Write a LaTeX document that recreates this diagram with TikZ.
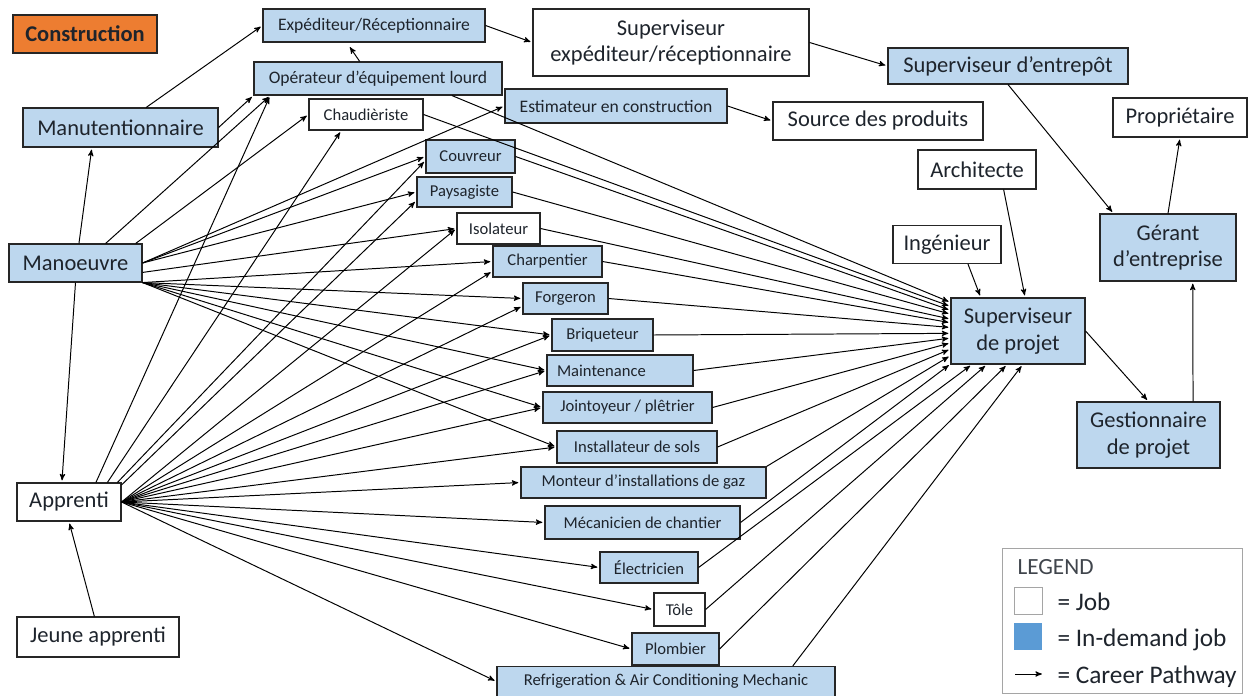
\documentclass[tikz,border=0pt]{standalone}
\usepackage{fontspec}
\setmainfont{Carlito}
\usepackage{tikz}
\usetikzlibrary{arrows}
\usetikzlibrary{positioning}
\definecolor{ink}{RGB}{30,36,44}
\definecolor{jobblue}{RGB}{189,215,238}
\definecolor{legblue}{RGB}{91,155,213}
\definecolor{constr}{RGB}{237,125,49}
\definecolor{lgray}{RGB}{165,165,165}
\newcommand{\bigtxt}{\fontsize{16}{19}\selectfont}
\newcommand{\midtxt}{\fontsize{12.5}{15}\selectfont}
\newcommand{\smltxt}{\fontsize{11.8}{14}\selectfont}
\newcommand{\legtxt}{\fontsize{18}{21}\selectfont}

\begin{document}
\begin{tikzpicture}[x=0.025cm,y=-0.025cm,->,>=stealth',line width=0.7pt,shorten >=1.5pt,
		job/.style={rectangle,draw=black!85,fill=white,line width=0.8pt,inner sep=0pt,align=center,text=ink,font=\bigtxt},
		hot/.style={job,fill=jobblue},
		sz/.style 2 args={minimum width=#1*0.025cm,minimum height=#2*0.025cm}]
		\useasboundingbox (0,0) rectangle (1248,696);
		
		\node[job,fill=constr,sz={144}{38},font=\bigtxt\bfseries] (constr) at (85,34) {Construction};
		
		% top row
		\node[hot,sz={222}{33},font=\midtxt]  (exped)    at (374,25.5)  {Expéditeur/Réceptionnaire};
		\node[job,sz={276}{67}]            (supexp)   at (671,42.5)  {Superviseur\\expéditeur/réceptionnaire};
		\node[hot,sz={240}{36}]            (entrepot) at (1008,66)   {Superviseur d’entrepôt};
		\node[hot,sz={248}{33},font=\midtxt]  (oper)     at (378,78.5)  {Opérateur d’équipement lourd};
		\node[hot,sz={195}{39}]            (manut)    at (120.5,127.5) {Manutentionnaire};
		\node[job,sz={114}{31},font=\smltxt]  (chaud)    at (366,114.5) {Chaudièriste};
		\node[hot,sz={222}{34},font=\midtxt]  (estim)    at (616,106)   {Estimateur en construction};
		\node[job,sz={210}{38}]            (source)   at (878,121)   {Source des produits};
		\node[job,sz={134}{39}]            (proprio)  at (1180,117.5) {Propriétaire};
		
		% right side
		\node[job,sz={118}{39}]            (archi)    at (977,169.5) {Architecte};
		\node[job,sz={108}{38}]            (inge)     at (947,244.5) {Ingénieur};
		\node[hot,sz={136}{67}]            (gerant)   at (1168,247.5) {Gérant\\d’entreprise};
		\node[hot,sz={134}{66}]            (sdp)      at (1018,331)  {Superviseur\\de projet};
		\node[hot,sz={143}{66}]            (gestion)  at (1148.5,435) {Gestionnaire\\de projet};
		
		% entry level
		\node[hot,sz={133}{38}]            (man)      at (75.5,263)  {Manoeuvre};
		\node[job,sz={104}{38}]            (app)      at (69,502)    {Apprenti};
		\node[job,sz={162}{40}]            (jeune)    at (98,637)    {Jeune apprenti};
		
		% trades
		\node[hot,sz={89}{33},font=\smltxt]   (couv)  at (470.5,156.5) {Couvreur};
		\node[hot,sz={95}{30},font=\smltxt]   (pays)  at (464.5,192)   {Paysagiste};
		\node[job,sz={83}{31},font=\smltxt]   (isol)  at (498.5,228.5) {Isolateur};
		\node[hot,sz={109}{31},font=\smltxt]  (charp) at (547.5,261.5) {Charpentier};
		\node[hot,sz={85}{31},font=\smltxt]   (forg)  at (565.5,298.5) {Forgeron};
		\node[hot,sz={101}{32},font=\smltxt]  (briq)  at (602.5,335)   {Briqueteur};
		\node[hot,minimum height=31*0.025cm,inner xsep=10*0.025cm,text width=126*0.025cm,align=left,font=\smltxt] (maint) at (620,370.5) {Maintenance};
		\node[hot,sz={169}{31},font=\smltxt]  (joint) at (627.5,407.5) {Jointoyeur / plêtrier};
		\node[hot,sz={160}{32},font=\smltxt]  (sols)  at (637,447)     {Installateur de sols};
		\node[hot,sz={245}{31},font=\smltxt]  (gaz)   at (643.5,482.5) {Monteur d’installations de gaz};
		\node[hot,sz={195}{33},font=\smltxt]  (meca)  at (642.5,522.5) {Mécanicien de chantier};
		\node[hot,sz={98}{31},font=\smltxt]   (elec)  at (649,567.5)   {Électricien};
		\node[job,sz={51}{33},font=\smltxt]   (tole)  at (679.5,609.5) {Tôle};
		\node[hot,sz={87}{32},font=\smltxt]   (plomb) at (675.5,649)   {Plombier};
		\node[hot,sz={338}{30},font=\smltxt]  (frigo) at (666,681.5)   {Refrigeration \& Air Conditioning Mechanic};
		
		% legend
		\node[draw=lgray,line width=0.6pt,sz={240}{145},anchor=north west] (legend) at (1002,548) {};
		\node[anchor=west,inner sep=0pt,text=ink!85,font=\fontsize{16.5}{19}\selectfont] (lgtitle) at (1017,567) {LEGEND};
		\node[draw=lgray,fill=white,sz={28}{27}] (lgjob) at (1028,600.5) {};
		\node[anchor=west,inner sep=0pt,text=ink,font=\legtxt] (lgjobtxt) at (1057,602) {= Job};
		\node[fill=legblue,sz={28}{27}] (lghot) at (1028,636.5) {};
		\node[anchor=west,inner sep=0pt,text=ink,font=\legtxt] (lghottxt) at (1057,640) {= In-demand job};
		\coordinate (lgA) at (1015,674);
		\coordinate (lgB) at (1044,674);
		\node[anchor=west,inner sep=0pt,text=ink,font=\legtxt] (lgpathtxt) at (1057,677) {= Career Pathway};
		\draw (lgA) -- (lgB);
		
		\path[->]
		(jeune.100) edge (app.south)
		(man.south) edge (app.110)
		(man.80) edge (manut.215)
		(manut.38) edge (exped.west)
		(manut.east) edge (oper.south west)
		(oper.137.5) edge[shorten >=4pt] (exped.212)
		(exped.east) edge (supexp.west)
		(supexp.east) edge (entrepot.west)
		(estim.east) edge (source.west)
		(entrepot.south) edge (gerant.148)
		(gerant.north) edge (proprio.south)
		(gestion.37) edge (gerant.-54)
		(sdp.east) edge (gestion.north)
		(archi.-37) edge (sdp.78)
		(inge.-43) edge (sdp.138);
		
		% from Manoeuvre
		\path[->]
		(man.33) edge (oper.189)
		(man.18) edge (chaud.west)
		(man.east) edge (estim.west)
		(man.east) edge (couv.west)
		(man.east) edge (pays.west)
		(man.-8) edge (isol.west)
		(man.south east) edge (charp.west)
		(man.south east) edge (forg.west)
		(man.south east) edge (briq.west)
		(man.south east) edge (maint.west)
		(man.south east) edge (joint.west)
		(man.south east) edge (sols.west);
		
		% from Apprenti
		\path[->]
		(app.36) edge (oper.189)
		(app.27) edge (chaud.213)
		(app.22) edge (couv.185)
		(app.18) edge (pays.190)
		(app.east) edge (isol.west)
		(app.east) edge (charp.190)
		(app.east) edge (forg.190)
		(app.east) edge (briq.west)
		(app.east) edge (maint.west)
		(app.east) edge (joint.west)
		(app.east) edge (sols.west)
		(app.east) edge (gaz.west)
		(app.east) edge (meca.west)
		(app.east) edge (elec.west)
		(app.east) edge (tole.west)
		(app.east) edge (plomb.west)
		(app.east) edge (frigo.west);
		
		% into Superviseur de projet
		\path[->]
		(oper.-13) edge (sdp.157)
		(chaud.east) edge (sdp.160)
		(couv.east) edge (sdp.163)
		(pays.east) edge (sdp.166)
		(isol.east) edge (sdp.170)
		(charp.east) edge (sdp.173)
		(forg.east) edge (sdp.177)
		(briq.east) edge (sdp.182)
		(maint.east) edge (sdp.186)
		(joint.east) edge (sdp.190)
		(sols.east) edge (sdp.195)
		(gaz.north east) edge (sdp.200)
		(meca.east) edge (sdp.206)
		(elec.east) edge (sdp.216)
		(tole.east) edge (sdp.227)
		(plomb.east) edge (sdp.252)
		(frigo.7) edge (sdp.278);
\end{tikzpicture}
\end{document}
